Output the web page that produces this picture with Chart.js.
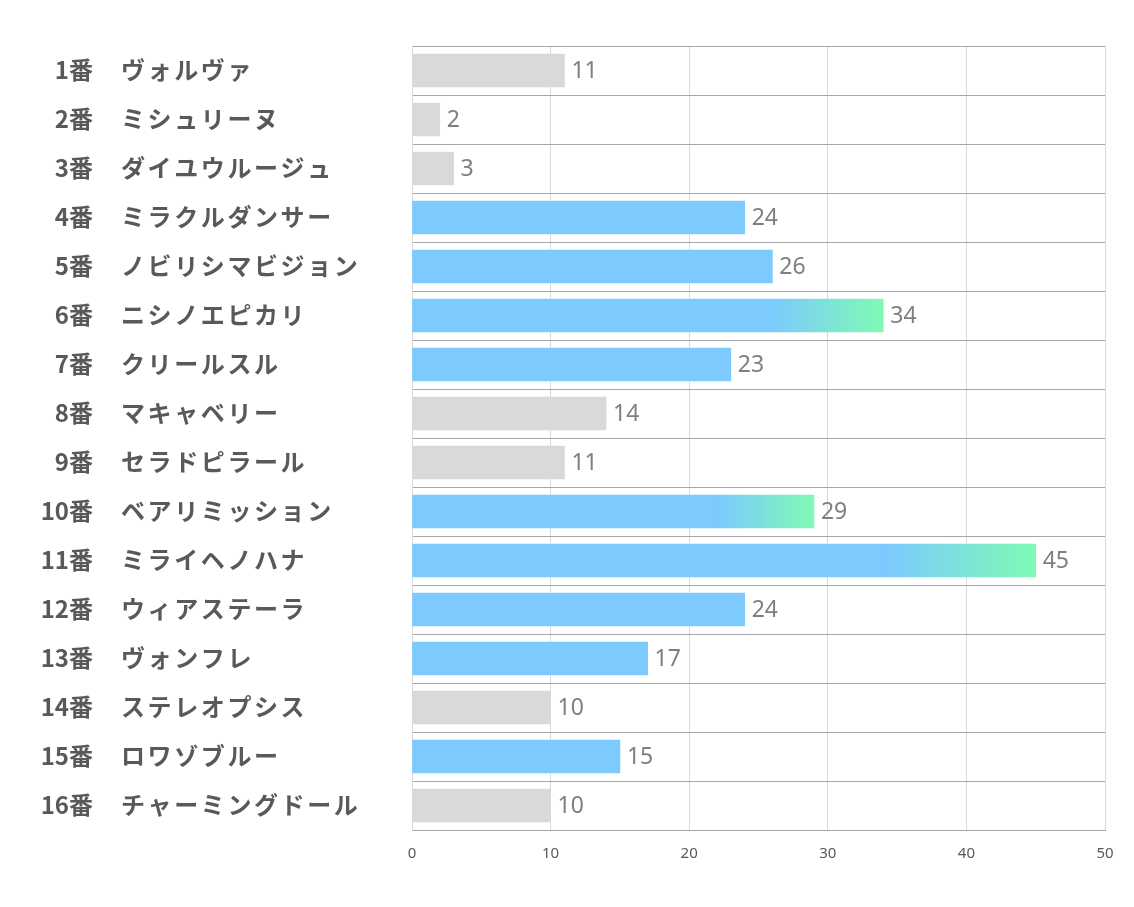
<!DOCTYPE html>
<html><head><meta charset="utf-8">
<script src="https://cdn.jsdelivr.net/npm/chart.js@4"></script>
<style>html,body{margin:0;padding:0;background:#fff;}#wrap{width:1134px;height:907px;position:relative;}</style>
</head><body><div id="wrap"><canvas id="c"></canvas></div>
<script>
const numbers = ["1番","2番","3番","4番","5番","6番","7番","8番","9番","10番","11番","12番","13番","14番","15番","16番"];
const names = ["ヴォルヴァ","ミシュリーヌ","ダイユウルージュ","ミラクルダンサー","ノビリシマビジョン","ニシノエピカリ","クリールスル","マキャベリー","セラドピラール","ベアリミッション","ミライヘノハナ","ウィアステーラ","ヴォンフレ","ステレオプシス","ロワゾブルー","チャーミングドール"];
const values = [11,2,3,24,26,34,23,14,11,29,45,24,17,10,15,10];
const xTicks = [0,10,20,30,40,50];

const GRAY = '#d9d9d9', BLUE = 'rgb(124,202,254)', GREEN = 'rgb(127,250,180)';

function barColor(ctx){
  const v = ctx.raw;
  if (v < 15) return GRAY;
  if (v < 28) return BLUE;
  const chart = ctx.chart;
  if (!chart.chartArea) return BLUE;
  const xs = chart.scales.x;
  const x0 = xs.getPixelForValue(v*0.76), x1 = xs.getPixelForValue(v);
  const g = chart.ctx.createLinearGradient(x0,0,x1,0);
  g.addColorStop(0, BLUE); g.addColorStop(1, GREEN);
  return g;
}

const labelPlugin = {
  id:'labels',
  afterDraw(chart){
    const c = chart.ctx, ys = chart.scales.y, xs = chart.scales.x;
    c.save();
    c.textBaseline = 'middle';
    c.fillStyle = '#595959';
    c.font = 'bold 24px "Noto Sans CJK JP"';
    numbers.forEach((n,i)=>{
      const y = ys.getPixelForValue(i) - 1;
      c.letterSpacing = '0px';
      c.textAlign = 'right'; c.fillText(n, 93, y);
      c.letterSpacing = '2.6px';
      c.textAlign = 'left'; c.fillText(names[i], 121, y);
    });
    c.letterSpacing = '0px';
    c.font = '23px "Noto Sans"';
    c.fillStyle = '#7f7f7f';
    c.textAlign = 'left';
    values.forEach((v,i)=>{
      const y = ys.getPixelForValue(i);
      c.fillText(String(v), xs.getPixelForValue(v)+7, y+1);
    });
    c.restore();
  }
};

new Chart(document.getElementById('c'), {
  type:'bar',
  data:{ labels: numbers.map((n,i)=>n+'　'+names[i]), datasets:[{ data: values, backgroundColor: barColor, barThickness: 33, borderWidth:0 }]},
  options:{
    indexAxis:'y', responsive:true, maintainAspectRatio:false, animation:false,
    layout:{ padding:{ left:0, right:29, top:46, bottom:0 } },
    plugins:{ legend:{display:false}, tooltip:{enabled:false} },
    scales:{
      x:{ min:0, max:50, afterBuildTicks(s){ s.ticks = xTicks.map(v=>({value:v})); },
          grid:{ color:'#d9d9d9', drawTicks:false },
          border:{ color:'#a6a6a6' },
          ticks:{ padding:15, color:'#595959', font:{ family:'"Noto Sans"', size:15 } },
          afterFit(s){ s.height = 77; } },
      y:{ grid:{ color:'#a6a6a6', offset:true, drawTicks:false },
          border:{ color:'#d9d9d9' },
          ticks:{ display:false },
          afterFit(s){ s.width = 412; } }
    }
  },
  plugins:[labelPlugin]
});
</script></body></html>
